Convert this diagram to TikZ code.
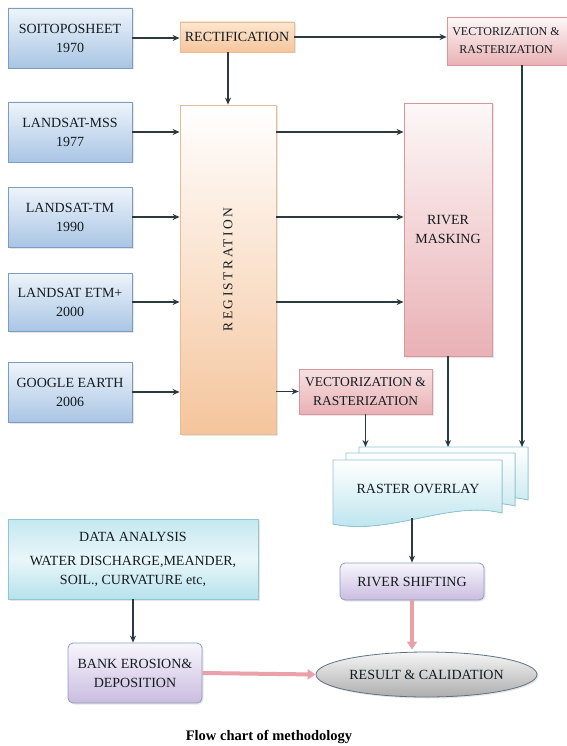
\documentclass[tikz,border=0pt]{standalone}
\usepackage{fontspec}
\setmainfont{Liberation Serif}
\usetikzlibrary{shapes.geometric, shadows, arrows.meta}
\definecolor{bleuhaut}{HTML}{EEF4FB}
\definecolor{bleubas}{HTML}{A9C5E4}
\definecolor{bleubord}{HTML}{7D9CC0}
\definecolor{pechehaut}{HTML}{FDE6D0}
\definecolor{pechebas}{HTML}{F5C59C}
\definecolor{pechebord}{HTML}{E9BC98}
\definecolor{rosehaut}{HTML}{FDF8F8}
\definecolor{rosebas}{HTML}{E9B1B5}
\definecolor{rosebord}{HTML}{D9969C}
\definecolor{cyanhaut}{HTML}{FFFFFF}
\definecolor{cyanbas}{HTML}{B6E2EC}
\definecolor{cyanbord}{HTML}{8EC6D4}
\definecolor{lavhaut}{HTML}{F8F6FC}
\definecolor{lavbas}{HTML}{CABCE0}
\definecolor{lavbord}{HTML}{8D9DC0}
\definecolor{grishaut}{HTML}{F6F6F6}
\definecolor{grisbas}{HTML}{ADADAD}
\definecolor{grisbord}{HTML}{5E7282}
\definecolor{fonce}{HTML}{2C3A40}
\definecolor{texte}{HTML}{141C20}
\definecolor{rosefleche}{HTML}{EAA0A8}

\begin{document}
\begin{tikzpicture}[x=1pt, y=-1pt,
    boite/.style={draw, line width=0.8pt, align=center, inner sep=2pt, text=texte,
        font=\fontsize{14}{19}\selectfont,
        drop shadow={opacity=0.2, shadow xshift=1.5pt, shadow yshift=-1.5pt}},
    source/.style={boite, draw=bleubord, top color=bleuhaut, bottom color=bleubas,
        minimum width=124pt, minimum height=60pt},
    peche/.style={boite, draw=pechebord, top color=pechehaut, bottom color=pechebas},
    rose/.style={boite, draw=rosebord, top color=rosehaut, bottom color=rosebas},
    lavande/.style={boite, rounded corners=5pt, draw=lavbord, top color=lavhaut, bottom color=lavbas},
    feuille/.style={draw=cyanbord, line width=0.8pt, top color=cyanhaut, bottom color=cyanbas},
    fleche/.style={draw=fonce, line width=1.3pt, -{Stealth[length=7pt, width=6pt]}},
    grosse/.style={draw=rosefleche, line width=4pt, -{Triangle[length=8pt, width=10pt]}}]
    \useasboundingbox (0,0) rectangle (566,746);

    % Sources
    \node[source] (soi) at (70,38) {SOITOPOSHEET\\1970};
    \node[source] (mss) at (70,132) {LANDSAT-MSS\\1977};
    \node[source] (tm) at (70,217) {LANDSAT-TM\\1990};
    \node[source, minimum height=58pt] (etm) at (70,302) {LANDSAT ETM+\\2000};
    \node[source] (goo) at (70,392) {GOOGLE EARTH\\2006};

    % Traitements
    \node[peche, minimum width=114pt, minimum height=30pt] (rect) at (237,37) {RECTIFICATION};
    \node[peche, top color=white, minimum width=96pt, minimum height=329pt] (reg) at (228,269.5) {};
    \node[rotate=90, text=texte, font=\fontsize{13.5}{15}\selectfont\addfontfeature{LetterSpace=18}] (regtxt) at (reg.center) {REGISTRATION};
    \node[rose, minimum width=150pt, minimum height=48pt] (vtop) at (522,41) {};
    \node[text=texte, align=center, font=\fontsize{12}{18}\selectfont] (vtoptxt) at (506,41) {VECTORIZATION \&\\RASTERIZATION};
    \node[rose, top color=rosehaut, minimum width=88pt, minimum height=253pt] (mask) at (448,229.5) {RIVER\\MASKING};
    \node[rose, top color=rosebas!40, minimum width=133pt, minimum height=45pt, font=\fontsize{13.5}{19}\selectfont] (vlow) at (365.5,391.5) {VECTORIZATION \&\\RASTERIZATION};

    % Raster overlay
    \foreach \dx/\dy in {26/-13, 13/-7, 0/0}
        \filldraw[feuille, shift={(\dx,\dy)}] (333,460) -- (502,460) -- (502,513)
            .. controls (450,500) and (390,536) .. (333,524) -- cycle;
    \node[text=texte, font=\fontsize{14}{19}\selectfont] (ras) at (418,489) {RASTER OVERLAY};
    \coordinate (rtop) at (359,447);
    \coordinate (rbot) at (412,518);

    % Resultats
    \node[lavande, minimum width=144pt, minimum height=37pt] (shift) at (412,581.5) {RIVER SHIFTING};
    \node[boite, ellipse, draw=grisbord, top color=grishaut, bottom color=grisbas,
        minimum width=221pt, minimum height=45pt, inner sep=0pt] (res) at (426.5,674.5) {RESULT \& CALIDATION};
    \node[boite, draw=cyanbord, top color=cyanbas!80, bottom color=cyanbas, middle color=cyanbas!30,
        minimum width=250pt, minimum height=80pt] (data) at (133,559)
        {DATA ANALYSIS\\[5pt] WATER DISCHARGE,MEANDER,\\SOIL., CURVATURE etc,};
    \node[lavande, minimum width=134pt, minimum height=60pt] (bank) at (135,673) {BANK EROSION\&\\DEPOSITION};

    % Fleches
    \draw[fleche] (soi.east) -- (soi.east -| rect.west);
    \draw[fleche] (rect.east) -- (rect.east -| vtop.west);
    \draw[fleche] (reg.north |- rect.south) -- (reg.north);
    \foreach \s in {mss, tm, etm, goo}
        \draw[fleche] (\s.east) -- (\s.east -| reg.west);
    \foreach \s in {mss, tm, etm}
        \draw[fleche] (reg.east |- \s) -- (mask.west |- \s);
    \draw[fleche] (reg.east |- vlow) -- (vlow.west);
    \draw[fleche] (vlow.south) -- (vlow.south |- rtop);
    \draw[fleche] (mask.south) -- (mask.south |- rtop);
    \draw[fleche] (vtop.south) -- (vtop.south |- rtop);
    \draw[fleche] (rbot) -- (shift.north);
    \draw[fleche] (data.south) -- (data.south |- bank.north);
    \draw[grosse] (shift.south) -- ([yshift=2pt]shift.south |- res.north);
    \draw[grosse] (bank.east) -- (res.west);

    \node[font=\fontsize{14.5}{16}\selectfont\bfseries] (titre) at (269,737) {Flow chart of methodology};
\end{tikzpicture}
\end{document}
